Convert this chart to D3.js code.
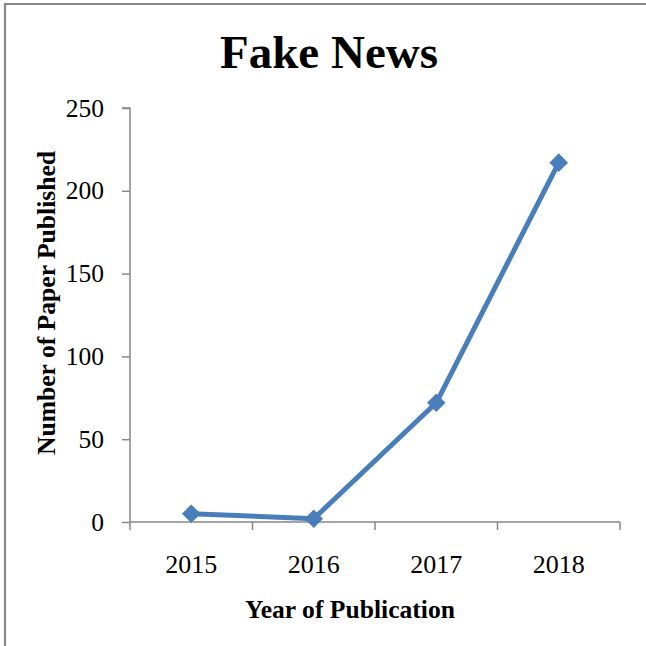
<!DOCTYPE html>
<html><head><meta charset="utf-8">
<script src="https://cdn.jsdelivr.net/npm/d3@7"></script>
<style>body{margin:0;background:#fff}svg{display:block}</style>
</head><body>
<script>
const categories = ["2015","2016","2017","2018"];
const values = [5, 2, 72, 217];
const yTicks = [0,50,100,150,200,250];
const title = "Fake News";
const xTitle = "Year of Publication";
const yTitle = "Number of Paper Published";

(function(){
const W = 646, H = 646;
const svg = d3.select("body").append("svg").attr("width", W).attr("height", H);
const font = "'Liberation Serif','Times New Roman',serif";

// outer frame (only top and left visible)
svg.append("path").attr("d", `M5,${H} V4 H${W}`).attr("fill","none").attr("stroke","#888").attr("stroke-width",2.2);

const pL = 130, pR = 620, pT = 108, pB = 522;
const x = d3.scaleBand().domain(categories).range([pL, pR]);
const y = d3.scaleLinear().domain([0, 250]).range([pB, pT]);

// y axis
const yAx = svg.append("g").attr("transform", `translate(${pL},0)`)
  .call(d3.axisLeft(y).tickValues(yTicks).tickSize(8).tickPadding(18));
yAx.select(".domain").attr("d", `M-8,${pT}H0V${pB}`);
// x axis
const xAx = svg.append("g").attr("transform", `translate(0,${pB})`)
  .call(d3.axisBottom(x).tickSize(0).tickPadding(33));
xAx.select(".domain").attr("d", `M${pL},0H${pR}`);
// tick marks between categories
xAx.selectAll(".sep").data(d3.range(categories.length + 1)).enter().append("line")
  .attr("class","sep")
  .attr("x1", i => pL + i * x.step()).attr("x2", i => pL + i * x.step())
  .attr("y1", 0).attr("y2", 8).attr("stroke", "#878787").attr("stroke-width", 1.5);

[yAx, xAx].forEach(g => {
  g.attr("font-size", null);
  g.selectAll(".domain").attr("stroke", "#878787").attr("stroke-width", 1.5);
  g.selectAll(".tick line").attr("stroke", "#878787").attr("stroke-width", 1.5);
  g.selectAll("text").attr("font-family", font).style("font-size", "26px").attr("fill", "#000");
});
yAx.selectAll("text").style("font-size", "25.5px");

// line
const line = d3.line().x((d,i) => x(categories[i]) + x.bandwidth()/2).y(d => y(d));
svg.append("path").datum(values).attr("d", line)
  .attr("fill","none").attr("stroke","#4A7EBB").attr("stroke-width",5).attr("stroke-linejoin","round");
svg.selectAll(".mk").data(values).enter().append("path")
  .attr("class","mk")
  .attr("transform",(d,i) => `translate(${x(categories[i]) + x.bandwidth()/2},${y(d)})`)
  .attr("d", d3.symbol().type(d3.symbolDiamond2).size(220))
  .attr("fill","#4A7EBB");

// titles
svg.append("text").attr("x", 329).attr("y", 68).attr("text-anchor","middle")
  .attr("font-family", font).attr("font-weight","bold").style("font-size", "47px").text(title);
svg.append("text").attr("x", 350).attr("y", 618).attr("text-anchor","middle")
  .attr("font-family", font).attr("font-weight","bold").style("font-size", "25.6px").text(xTitle);
svg.append("text").attr("transform","translate(55,303) rotate(-90)").attr("text-anchor","middle")
  .attr("font-family", font).attr("font-weight","bold").style("font-size", "25.6px").text(yTitle);
})();
</script>
</body></html>
